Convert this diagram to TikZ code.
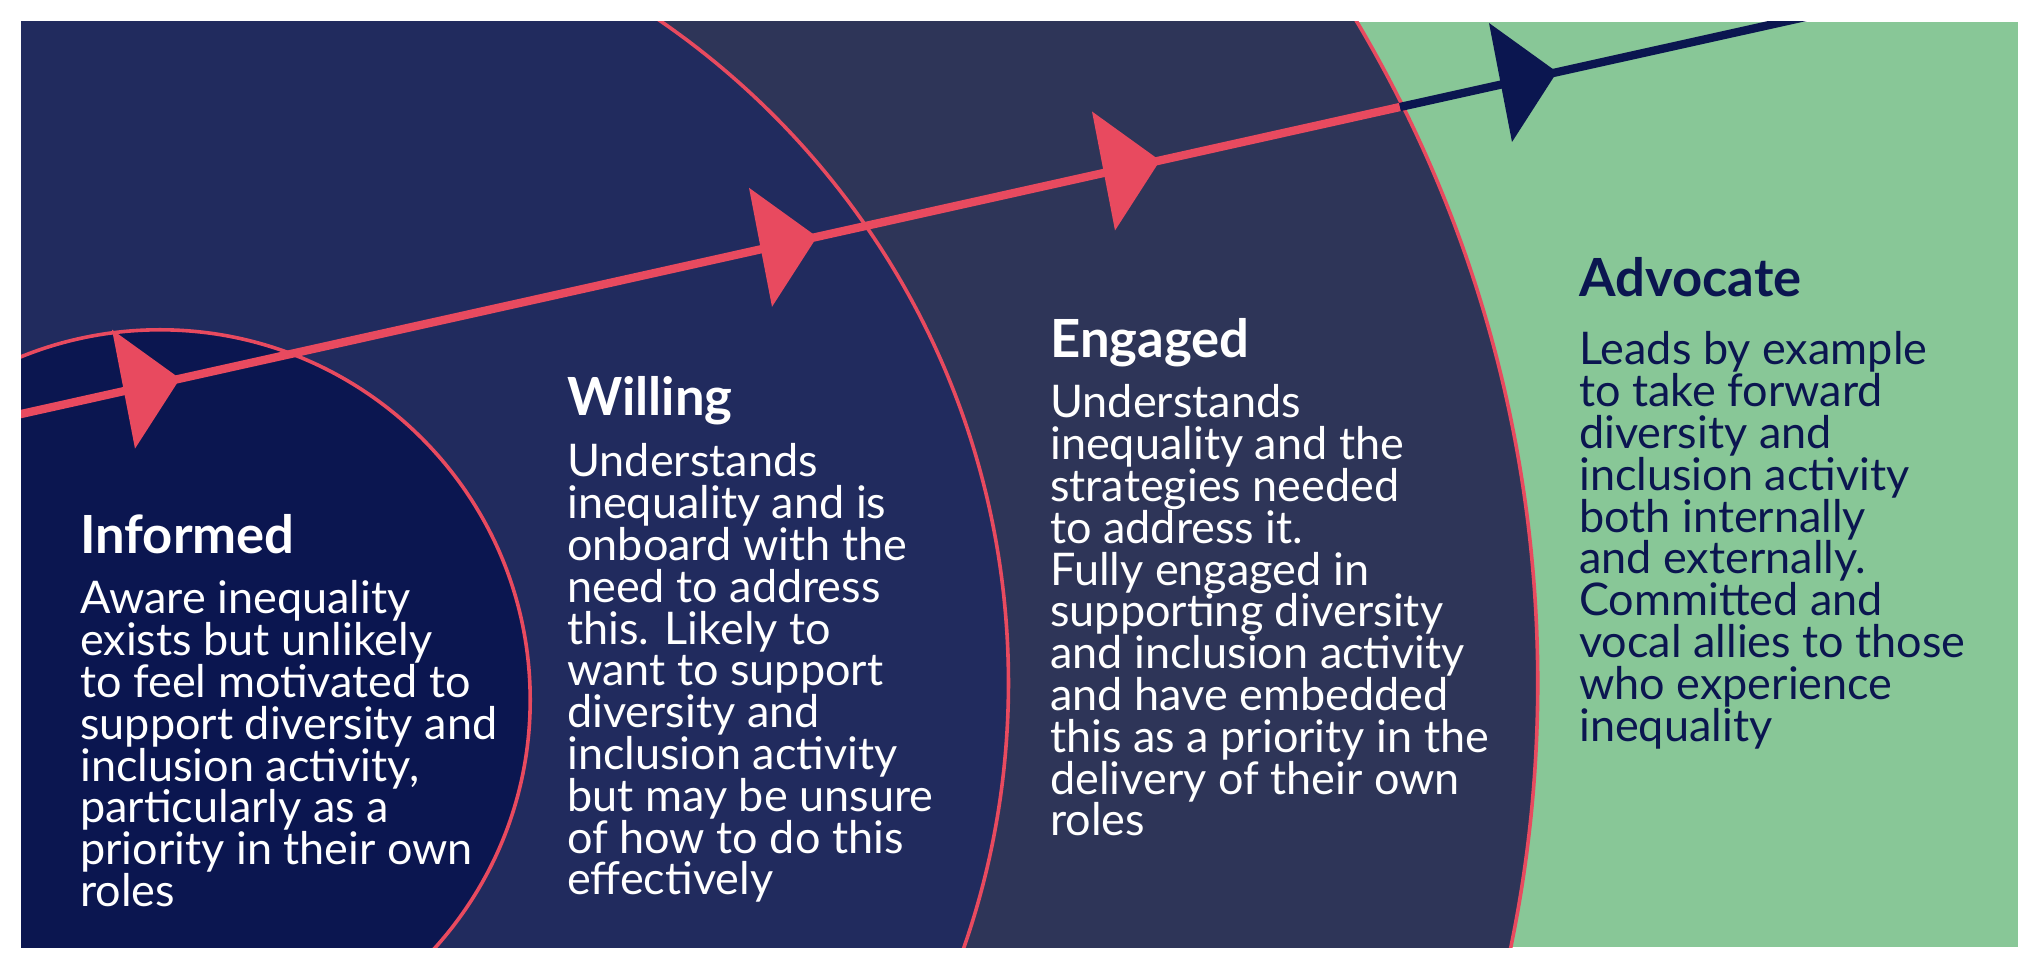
\documentclass[tikz,border=0pt]{standalone}
\usepackage{fontspec}
\setmainfont{Lato}
\usetikzlibrary{positioning, calc}

\definecolor{informedblue}{HTML}{0B1650}
\definecolor{willingblue}{HTML}{212B5E}
\definecolor{engagedblue}{HTML}{2E3558}
\definecolor{advocategreen}{HTML}{88C797}
\definecolor{pathred}{HTML}{E84A5F}

\newcommand{\arrowhead}[2]{%
    \fill[#1] (#2) -- ($(#2)+(-68,-49)$) -- ($(#2)+(-45,70)$) -- cycle;
}

\begin{document}
\begin{tikzpicture}[
            x=0.01in, y=-0.01in,
            title/.style={anchor=base west, inner sep=0pt, font=\fontsize{38}{40}\selectfont\bfseries},
            body/.style={anchor=north west, inner sep=0pt, yshift=25pt, align=left, font=\fontsize{32.5}{30.2}\selectfont},
            ring/.style={draw=pathred, line width=2.6pt}
        ]
        \useasboundingbox (0, 0) rectangle (2038, 974);
        \fill[white] (0, 0) rectangle (2038, 974);
        \fill[advocategreen] (21, 22) rectangle (2018, 947);

        \begin{scope}
            \clip (21, 22) rectangle (2018, 947);
            \fill[engagedblue, ring] (240, 683) circle[radius=12.97in];
            \fill[willingblue, ring] (205, 683) circle[radius=8.03in];
            \fill[informedblue, ring] (160, 700) circle[radius=3.70in];

            % path through the stages
            \coordinate (start) at (0, 418.7);
            \coordinate (cross) at (1400, 107);
            \coordinate (finish) at (1900, -4);
            \draw[pathred, line width=6pt] (start) -- (cross);
            \draw[informedblue, line width=6pt] (cross) -- (finish);

            \coordinate (tip1) at (180, 378.6);
            \coordinate (tip2) at (817, 236.8);
            \coordinate (tip3) at (1160, 160.5);
            \coordinate (tip4) at (1557, 72);
            \arrowhead{pathred}{tip1}
            \arrowhead{pathred}{tip2}
            \arrowhead{pathred}{tip3}
            \arrowhead{informedblue}{tip4}
        \end{scope}

        % stage texts
        \node[title, white] (informed) at (80, 553) {Informed};
        \node[body, white] (informedtext) at (80, 615) {Aware inequality\\exists but unlikely\\to feel motivated to\\support diversity and\\inclusion activity,\\particularly as a\\priority in their own\\roles};

        \node[title, white] (willing) at (567, 415) {Willing};
        \node[body, white] (willingtext) at (567, 478) {Understands\\inequality and is\\onboard with the\\need to address\\this. Likely to\\want to support\\diversity and\\inclusion activity\\but may be unsure\\of how to do this\\effectively};

        \node[title, white] (engaged) at (1050, 357) {Engaged};
        \node[body, white] (engagedtext) at (1050, 419) {Understands\\inequality and the\\strategies needed\\to address it.\\Fully engaged in\\supporting diversity\\and inclusion activity\\and have embedded\\this as a priority in the\\delivery of their own\\roles};

        \node[title, informedblue] (advocate) at (1579, 297) {Advocate};
        \node[body, informedblue] (advocatetext) at (1579, 366) {Leads by example\\to take forward\\diversity and\\inclusion activity\\both internally\\and externally.\\Committed and\\vocal allies to those\\who experience\\inequality};
\end{tikzpicture}
\end{document}
